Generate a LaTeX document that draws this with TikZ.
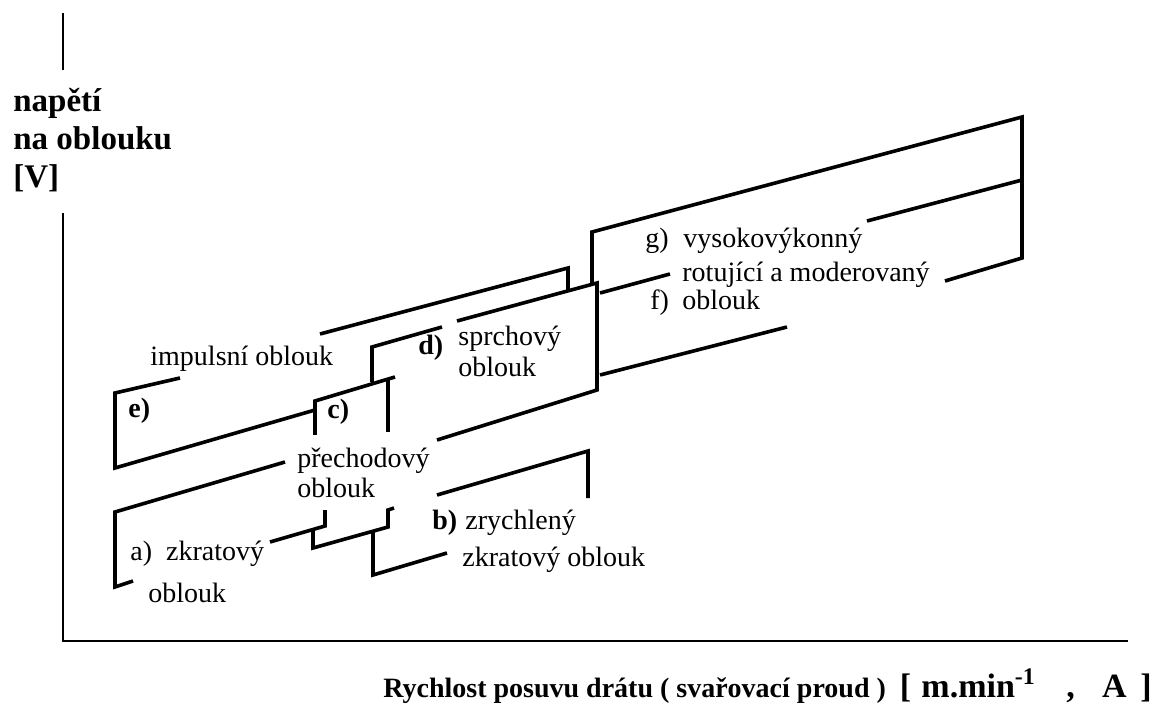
\documentclass[tikz,border=0pt]{standalone}
\usepackage{fontspec}
\setmainfont{Liberation Serif}
\usetikzlibrary{positioning}

\begin{document}
\begin{tikzpicture}[x=0.5pt, y=-0.5pt,
axis/.style={line width=1.4pt},
edge/.style={line width=1.8pt, line join=miter},
arclbl/.style={anchor=base west, inner sep=0pt, font=\fontsize{14}{16}\selectfont},
arctag/.style={arclbl, font=\bfseries\fontsize{14}{16}\selectfont},
axlbl/.style={anchor=base west, inner sep=0pt, font=\bfseries\fontsize{16.5}{19}\selectfont},
]
\useasboundingbox (0,0) rectangle (1175,706);

%Axes
\draw[axis] (63,13) -- (63,70);
\draw[axis] (63,213) -- (63,641) -- (1128,641);

%Axis labels
\node[axlbl] (ylab1) at (13,112) {napětí};
\node[axlbl] (ylab2) at (13,150) {na oblouku};
\node[axlbl] (ylab3) at (13,188) {[V]};
\node[anchor=base west, inner sep=0pt, font=\bfseries\fontsize{14}{16}\selectfont] (xlab) at (383,697)
  {Rychlost posuvu drátu ( svařovací proud )\hspace{0.5em}{\fontsize{17}{20}\selectfont [\hspace{0.3em}m.min\textsuperscript{-1}\hspace{0.9em},\hspace{0.8em}A\hspace{0.4em}]}};

%Lines
% e) impulsni
\draw[edge] (180,378) -- (115,393) -- (115,468) -- (315,410);
\draw[edge] (320,334) -- (568,268) -- (568,290);
% c)
\draw[edge] (315,435) -- (315,401) -- (395,377);
\draw[edge] (388,379) -- (388,432);
% d)
\draw[edge] (372,382) -- (372,347) -- (442,327);
\draw[edge] (457,321) -- (597,283) -- (597,390) -- (437,440);
% g) and f)
\draw[edge] (592,283) -- (592,232) -- (1022,117) -- (1022,258) -- (945,281);
\draw[edge] (600,293) -- (670,274);
\draw[edge] (867,221) -- (1022,180);
\draw[edge] (600,375) -- (787,327);
% a)
\draw[edge] (285,462) -- (115,512) -- (115,587) -- (133,581);
\draw[edge] (270,542) -- (325,526) -- (325,510);
\draw[edge] (313,530) -- (313,548) -- (388,527) -- (388,510) -- (394,508);
\draw[edge] (373,531) -- (373,575) -- (447,553);
% b)
\draw[edge] (437,495) -- (588,451) -- (588,498);

%Nodes
\node[arclbl] (impuls)  at (150,365) {impulsní oblouk};
\node[arctag] (etag)    at (128,417) {e)};
\node[arctag] (ctag)    at (327,418) {c)};
\node[arclbl] (prech1)  at (297,467) {přechodový};
\node[arclbl] (prech2)  at (297,497) {oblouk};
\node[arctag] (dtag)    at (418,355) {d)};
\node[arclbl] (sprch1)  at (458,345) {sprchový};
\node[arclbl] (sprch2)  at (458,377) {oblouk};
\node[arclbl] (zkrat1)  at (130,560) {a)~ zkratový};
\node[arclbl] (zkrat2)  at (148,602) {oblouk};
\node[arctag] (btag)    at (432,530) {b)};
\node[arclbl] (zrych1)  at (465,530) {zrychlený};
\node[arclbl] (zrych2)  at (462,567) {zkratový oblouk};
\node[arclbl] (gtag)    at (645,248) {g)};
\node[arclbl] (vysok)   at (683,248) {vysokovýkonný};
\node[arclbl] (rotuj)   at (682,282) {rotující a moderovaný};
\node[arclbl] (ftag)    at (650,310) {f)};
\node[arclbl] (fobl)    at (682,310) {oblouk};
\end{tikzpicture}
\end{document}
